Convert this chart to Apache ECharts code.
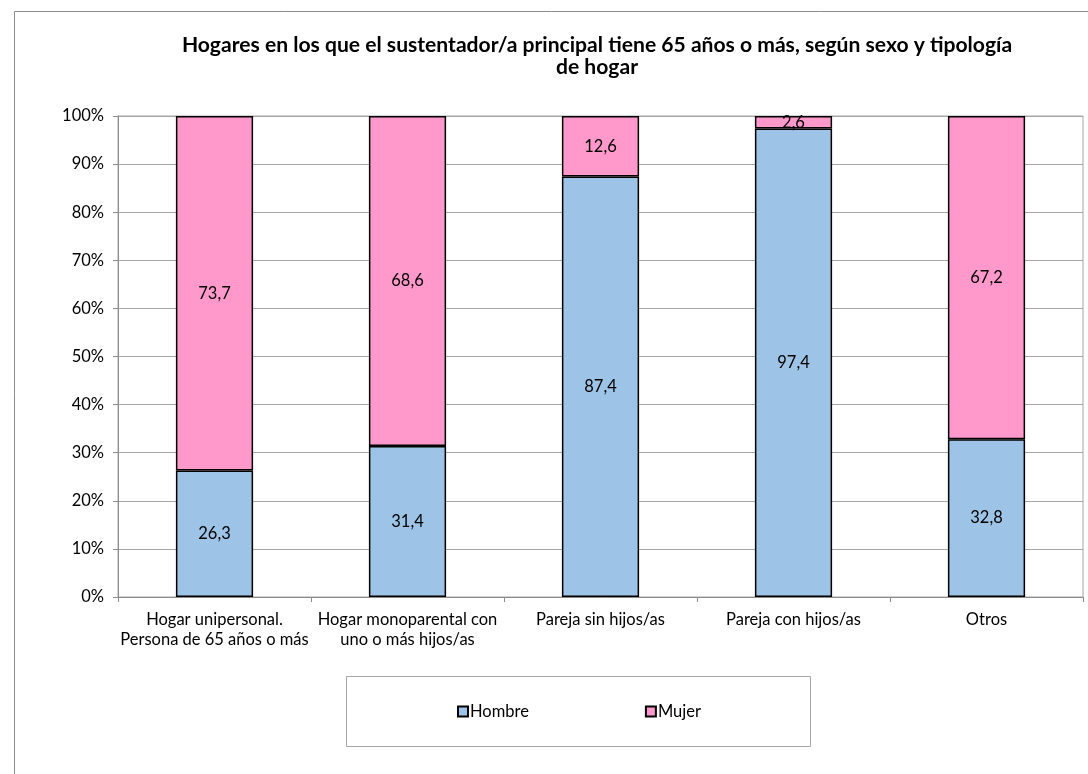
<!DOCTYPE html>
<html>
<head>
<meta charset="utf-8">
<script src="https://cdn.jsdelivr.net/npm/echarts@6/dist/echarts.min.js"></script>
<style>
html,body{margin:0;padding:0;background:#fff;}
#chart{width:1088px;height:774px;}
</style>
</head>
<body>
<div id="chart"></div>
<script>
const categories = [
  "Hogar unipersonal.\nPersona de 65 años o más",
  "Hogar monoparental con\nuno o más hijos/as",
  "Pareja sin hijos/as",
  "Pareja con hijos/as",
  "Otros"
];
const hombre = [26.3, 31.4, 87.4, 97.4, 32.8];
const mujer = [73.7, 68.6, 12.6, 2.6, 67.2];
const yTicks = [0, 10, 20, 30, 40, 50, 60, 70, 80, 90, 100];

const font = "Lato, 'Open Sans', sans-serif";
const chart = echarts.init(document.getElementById('chart'));
const labelFmt = p => String(p.value).replace('.', ',');

chart.setOption({
  animation: false,
  backgroundColor: '#fff',
  title: {
    text: 'Hogares en los que el sustentador/a principal tiene 65 años o más, según sexo y tipología\nde hogar',
    left: 592,
    top: 29,
    textAlign: 'center',
    textStyle: {fontFamily: font, fontSize: 21.1, fontWeight: 'bold', color: '#000', lineHeight: 22}
  },
  graphic: [
    {type: 'rect', shape: {x: 14.5, y: 11.5, width: 1200, height: 900}, style: {fill: 'none', stroke: '#8c8c8c', lineWidth: 1}, z: -10},
    {type: 'rect', shape: {x: 346.5, y: 676.5, width: 464, height: 70}, style: {fill: '#fff', stroke: '#a6a6a6', lineWidth: 1}, z: -5}
  ],
  legend: {
    left: 457,
    top: 703,
    itemGap: 116,
    itemWidth: 10,
    itemHeight: 10,
    padding: 0,
    icon: 'rect',
    textStyle: {fontFamily: font, fontSize: 16.5, color: '#000', padding: [0, 0, 0, -3]},
    itemStyle: {borderColor: '#000', borderWidth: 2}
  },
  grid: {left: 118, right: 5, top: 116, bottom: 177, show: true, borderColor: '#a6a6a6', borderWidth: 1, containLabel: false},
  xAxis: {
    type: 'category',
    data: categories,
    axisLine: {lineStyle: {color: '#8c8c8c'}},
    axisTick: {show: true, length: 5, lineStyle: {color: '#8c8c8c'}},
    axisLabel: {fontFamily: font, fontSize: 16.5, color: '#000', lineHeight: 20, margin: 13, interval: 0}
  },
  yAxis: {
    type: 'value',
    min: 0, max: 100, interval: 10,
    axisLine: {show: true, lineStyle: {color: '#8c8c8c'}},
    axisTick: {show: true, length: 5, lineStyle: {color: '#8c8c8c'}},
    splitLine: {lineStyle: {color: '#a6a6a6'}},
    axisLabel: {fontFamily: font, fontSize: 16.5, color: '#000', margin: 14,
      formatter: v => yTicks.includes(v) ? v + '%' : ''}
  },
  series: [
    {
      name: 'Hombre', type: 'bar', stack: 'total', data: hombre, barWidth: '40%',
      itemStyle: {color: '#9DC3E6', borderColor: '#000', borderWidth: 1.5},
      label: {show: true, position: 'inside', formatter: labelFmt, fontFamily: font, fontSize: 16.5, color: '#000'}
    },
    {
      name: 'Mujer', type: 'bar', stack: 'total', data: mujer, barWidth: '40%',
      itemStyle: {color: '#FF99CC', borderColor: '#000', borderWidth: 1.5},
      label: {show: true, position: 'inside', formatter: labelFmt, fontFamily: font, fontSize: 16.5, color: '#000'}
    }
  ]
});
</script>
</body>
</html>
